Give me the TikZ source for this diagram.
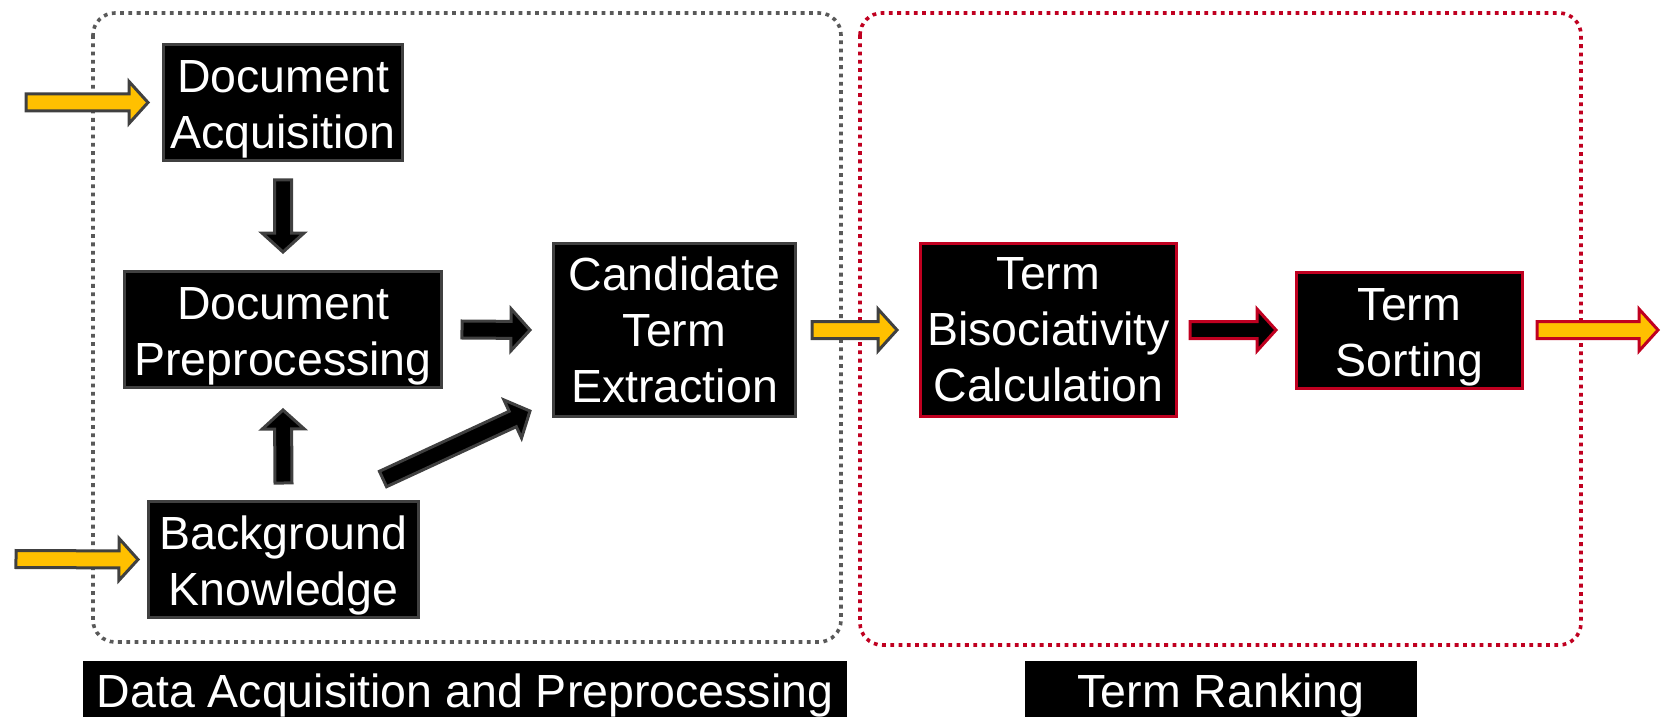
\documentclass[tikz,border=0pt]{standalone}
\usepackage{fontspec}
\setmainfont{Liberation Sans}
\usetikzlibrary{calc}

\definecolor{boxgray}{RGB}{64,64,64}
\definecolor{dotgray}{RGB}{89,89,89}
\definecolor{rankred}{RGB}{192,0,32}
\definecolor{flowyellow}{RGB}{255,192,0}

\tikzset{
  stage/.style={draw=boxgray, fill=black, line width=1.5pt, text=white,
    align=center, inner sep=0pt, font=\fontsize{23.25}{28}\selectfont},
  rankstage/.style={stage, draw=rankred},
  groupframe/.style={line width=1.8pt, dash pattern=on 1.9pt off 2.25pt,
    rounded corners=11pt},
  grouplabel/.style={fill=black, text=white, inner sep=0pt, anchor=base,
    font=\fontsize{23.25}{28}\selectfont},
  feed/.style={draw=boxgray, fill=flowyellow, line width=1.5pt},
  pass/.style={draw=boxgray, fill=black, line width=1.5pt},
  rankpass/.style={draw=rankred, fill=black, line width=1.5pt},
  rankout/.style={draw=rankred, fill=flowyellow, line width=1.5pt},
}

% extra room above the first line of two-line stage texts
\newcommand\firstlinestrut{\rule{0pt}{23pt}}

% Block arrow from #2 to #3 (tip), drawn with style #1
\newcommand\flowarrow[3]{%
  \path let \p1=(#2), \p2=(#3) in \pgfextra{%
    \pgfmathsetmacro\faAng{atan2(\y2-\y1,\x2-\x1)}%
    \pgfmathsetmacro\faLen{veclen(\x2-\x1,\y2-\y1)}%
    \xdef\faAng{\faAng}\xdef\faLen{\faLen}%
    \xdef\faX{\x1}\xdef\faY{\y1}};
  \draw[#1, shift={(\faX,\faY)}, rotate=\faAng]
    (0pt,-4.25pt) -- ({\faLen pt-9.5pt},-4.25pt) -- ({\faLen pt-9.5pt},-10.5pt)
    -- (\faLen pt,0pt) -- ({\faLen pt-9.5pt},10.5pt) -- ({\faLen pt-9.5pt},4.25pt)
    -- (0pt,4.25pt) -- cycle;
}

\begin{document}
\begin{tikzpicture}[x=0.5pt, y=-0.5pt]
\useasboundingbox (0,0) rectangle (1666,717);

% group frames
\draw[groupframe, draw=dotgray] (93,13) rectangle (841,642);
\draw[groupframe, draw=rankred] (860,13) rectangle (1581,645);

% stages
\node[stage, minimum width=119.5pt, minimum height=58pt] (da) at (283,102.5) {\firstlinestrut Document\\Acquisition};
\node[stage, minimum width=158.5pt, minimum height=58pt] (dp) at (283,329.5) {\firstlinestrut Document\\Preprocessing};
\node[stage, minimum width=135pt, minimum height=58pt] (bk) at (283.5,559.5) {\firstlinestrut Background\\Knowledge};
\node[stage, minimum width=121pt, minimum height=86.5pt] (cte) at (674.5,330) {Candidate\\Term\\Extraction};
\node[rankstage, minimum width=128pt, minimum height=86.5pt] (tbc) at (1048.5,330) {Term\\Bisociativity\\Calculation};
\node[rankstage, minimum width=113pt, minimum height=58pt] (ts) at (1409.5,330) {\firstlinestrut Term\\Sorting};

% group labels
\node[grouplabel, minimum width=382pt, text height=23pt, text depth=5pt] (lblA) at (465,707) {Data Acquisition and Preprocessing};
\node[grouplabel, minimum width=196pt, text height=23pt, text depth=5pt] (lblB) at (1221,707) {Term Ranking};

% free ends
\coordinate (inA) at (26,102.5);
\coordinate (inB) at (16,559);
\coordinate (outC) at (1658,330);

% arrows
\flowarrow{feed}{inA}{$(da.west)+(-14,0)$}
\flowarrow{feed}{inB}{$(bk.west)+(-9,0)$}
\flowarrow{pass}{$(da.south)+(0,18)$}{$(dp.north)+(0,-18)$}
\flowarrow{pass}{$(bk.north)+(0,-17)$}{$(dp.south)+(0,21)$}
\flowarrow{pass}{$(dp.east)+(19,0)$}{$(cte.west)+(-22,0)$}
\flowarrow{pass}{$(bk.north east)+(-37,-21)$}{$(cte.south west)+(-22,-7)$}
\flowarrow{feed}{$(cte.east)+(15,0)$}{$(tbc.west)+(-22,0)$}
\flowarrow{rankpass}{$(tbc.east)+(12,0)$}{$(ts.west)+(-19,0)$}
\flowarrow{rankout}{$(ts.east)+(13,0)$}{outC}
\end{tikzpicture}
\end{document}
